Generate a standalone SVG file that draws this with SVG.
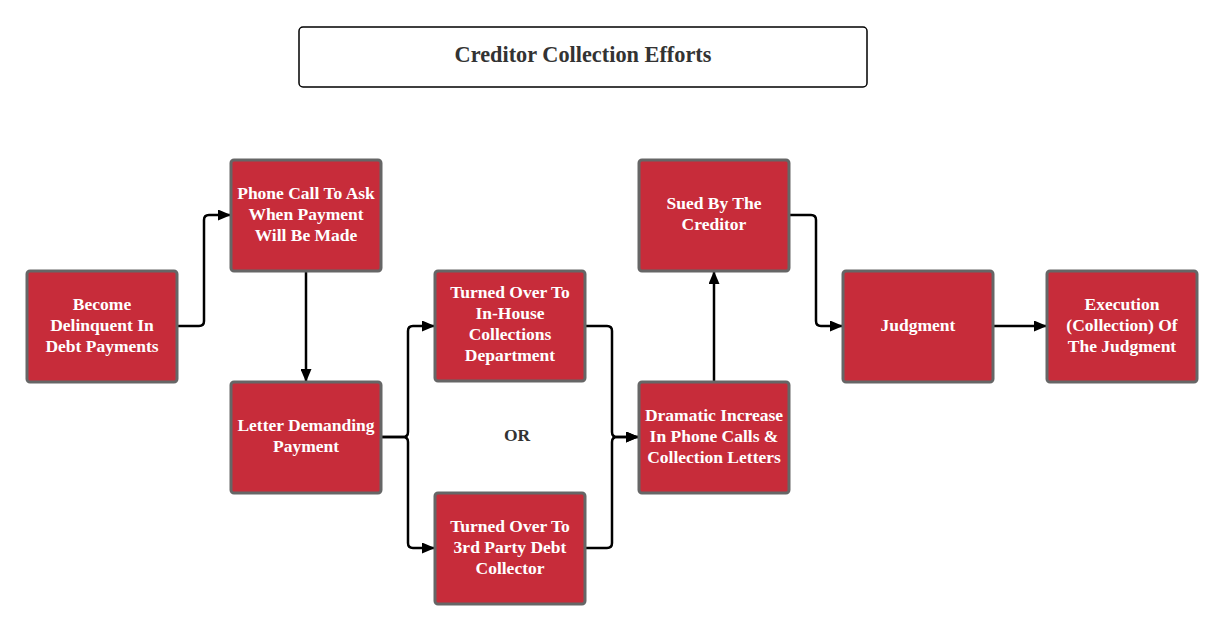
<svg xmlns="http://www.w3.org/2000/svg" width="1224" height="632" viewBox="0 0 1224 632">
<style>
.box{fill:#C72C3A;stroke:#666;stroke-width:3}
.t{font-family:"Liberation Serif","Times New Roman",serif;font-weight:bold;font-size:17.5px;fill:#fff;text-anchor:middle}
.c{fill:none;stroke:#000;stroke-width:2.5;stroke-linejoin:round}
.title{font-family:"Liberation Serif","Times New Roman",serif;font-weight:bold;font-size:22.3px;fill:#333;text-anchor:middle}
</style>
<defs>
<marker id="ah" markerWidth="13" markerHeight="11" refX="12" refY="5.5" orient="auto" markerUnits="userSpaceOnUse">
<path d="M0,0 L13,5.5 L0,11 Z" fill="#000"/>
</marker>
</defs>
<rect width="1224" height="632" fill="#fff"/>
<g id="title">
<rect x="299" y="27" width="568" height="60" rx="4" fill="#fff" stroke="#000" stroke-width="1.5"/>
<text class="title" x="583" y="62">Creditor Collection Efforts</text>
</g>
<g id="connectors">
<path class="c" d="M177,326 H199 Q204,326 204,321 V220 Q204,215 209,215 H230" marker-end="url(#ah)"/>
<path class="c" d="M306,271 V381" marker-end="url(#ah)"/>
<path class="c" d="M381,437 H403 Q408,437 408,432 V331 Q408,326 413,326 H434" marker-end="url(#ah)"/>
<path class="c" d="M381,437 H403 Q408,437 408,442 V543 Q408,548 413,548 H434" marker-end="url(#ah)"/>
<path class="c" d="M585,326 H607 Q612,326 612,331 V432 Q612,437 617,437 H638" marker-end="url(#ah)"/>
<path class="c" d="M585,548 H607 Q612,548 612,543 V442 Q612,437 617,437 H638" marker-end="url(#ah)"/>
<path class="c" d="M714,382 V272" marker-end="url(#ah)"/>
<path class="c" d="M789,215 H811 Q816,215 816,220 V321 Q816,326 821,326 H842" marker-end="url(#ah)"/>
<path class="c" d="M993,326 H1046" marker-end="url(#ah)"/>
</g>
<g id="n1"><rect class="box" x="27" y="271" width="150" height="111" rx="3"/>
<text class="t" x="102" y="310">Become</text><text class="t" x="102" y="331">Delinquent In</text><text class="t" x="102" y="352">Debt Payments</text></g>
<g id="n2"><rect class="box" x="231" y="160" width="150" height="111" rx="3"/>
<text class="t" x="306" y="199">Phone Call To Ask</text><text class="t" x="306" y="220">When Payment</text><text class="t" x="306" y="241">Will Be Made</text></g>
<g id="n3"><rect class="box" x="231" y="382" width="150" height="111" rx="3"/>
<text class="t" x="306" y="431">Letter Demanding</text><text class="t" x="306" y="452">Payment</text></g>
<g id="n4"><rect class="box" x="435" y="271" width="150" height="110" rx="3"/>
<text class="t" x="510" y="298">Turned Over To</text><text class="t" x="510" y="319">In-House</text><text class="t" x="510" y="340">Collections</text><text class="t" x="510" y="361">Department</text></g>
<g id="or"><text x="517" y="441" style="font-family:'Liberation Serif','Times New Roman',serif;font-weight:bold;font-size:17.5px;fill:#333;text-anchor:middle">OR</text></g>
<g id="n5"><rect class="box" x="435" y="493" width="150" height="111" rx="3"/>
<text class="t" x="510" y="532">Turned Over To</text><text class="t" x="510" y="553">3rd Party Debt</text><text class="t" x="510" y="574">Collector</text></g>
<g id="n6"><rect class="box" x="639" y="382" width="150" height="111" rx="3"/>
<text class="t" x="714" y="421">Dramatic Increase</text><text class="t" x="714" y="442">In Phone Calls &amp;</text><text class="t" x="714" y="463">Collection Letters</text></g>
<g id="n7"><rect class="box" x="639" y="160" width="150" height="111" rx="3"/>
<text class="t" x="714" y="209">Sued By The</text><text class="t" x="714" y="230">Creditor</text></g>
<g id="n8"><rect class="box" x="843" y="271" width="150" height="111" rx="3"/>
<text class="t" x="918" y="331">Judgment</text></g>
<g id="n9"><rect class="box" x="1047" y="271" width="150" height="111" rx="3"/>
<text class="t" x="1122" y="310">Execution</text><text class="t" x="1122" y="331">(Collection) Of</text><text class="t" x="1122" y="352">The Judgment</text></g>
</svg>
